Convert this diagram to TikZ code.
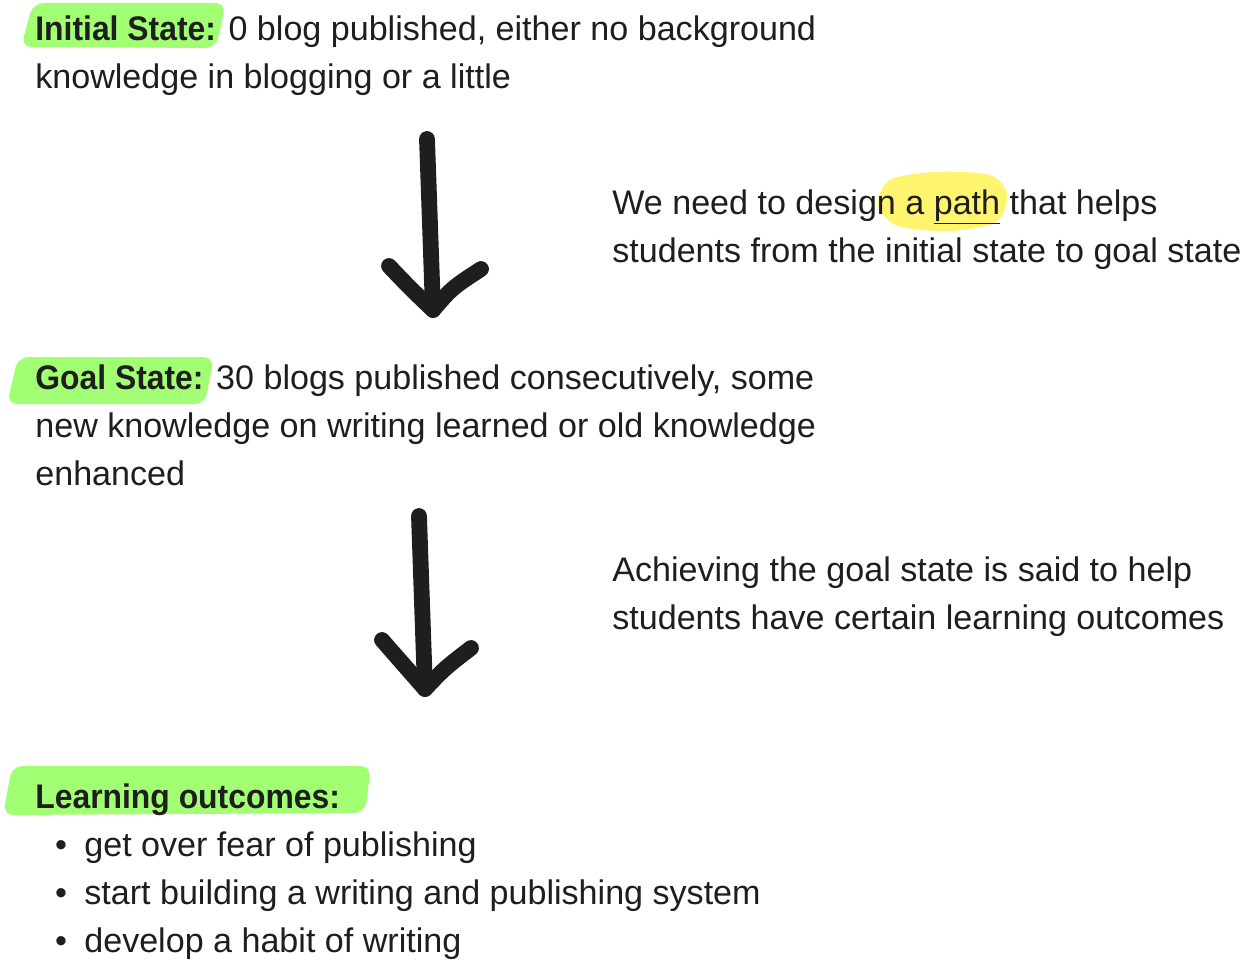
\documentclass[tikz,border=0pt]{standalone}
\usepackage{fontspec}
\setmainfont{Liberation Sans}[BoldFeatures={FakeStretch=0.935}]
\usetikzlibrary{positioning}
\definecolor{ink}{HTML}{1E1E1E}
\definecolor{hlgreen}{HTML}{A2FF73}
\definecolor{hlyellow}{HTML}{FFF46E}
\tikzset{
  txt/.style={anchor=base west,inner sep=0pt,align=left,text=ink,font=\fontsize{19.4}{27.2}\selectfont},
  dot/.style={anchor=base,inner sep=0pt,text=ink,font=\fontsize{19.4}{27.2}\selectfont},
  pen/.style={draw=ink,line width=9pt,line cap=round,line join=round},
}
\begin{document}
\begin{tikzpicture}[x=0.02cm,y=-0.02cm]
\useasboundingbox (0,0) rectangle (1242,960);
% highlights
\fill[hlgreen,rounded corners=6pt] (21,47) -- (33,3) -- (226,3) -- (216,48) -- cycle;
\fill[hlgreen,rounded corners=6pt] (7,404) -- (18,357) -- (214,357) -- (205,404) -- cycle;
\fill[hlgreen,rounded corners=6pt] (3,815) -- (12,766) -- (371,766) -- (365,813) -- cycle;
\fill[hlyellow] plot[smooth cycle] coordinates {(878,205) (890,180) (935,172) (990,175) (1007,195) (996,222) (950,231) (898,226)};
% texts (placed at the baseline of their last line)
\node[txt] (init) at (35,88) {\textbf{Initial State:} 0 blog published, either no background\\knowledge in blogging or a little};
\node[txt] (design) at (612,262) {We need to design a \underline{path} that helps\\students from the initial state to goal state};
\node[txt] (goal) at (35,485) {\textbf{Goal State:} 30 blogs published consecutively, some\\new knowledge on writing learned or old knowledge\\enhanced};
\node[txt] (achieve) at (612,629) {Achieving the goal state is said to help\\students have certain learning outcomes};
\node[txt] (learn) at (35,808) {\textbf{Learning outcomes:}};
\node[txt] (o1) at (84,856) {get over fear of publishing};
\node[txt] (o2) at (84,904) {start building a writing and publishing system};
\node[txt] (o3) at (84,952) {develop a habit of writing};
\node[dot] (b1) at (61,856) {•};
\node[dot] (b2) at (61,904) {•};
\node[dot] (b3) at (61,952) {•};
% arrows
\coordinate (s1) at (427,139);
\coordinate (t1) at (433,310);
\coordinate (s2) at (419,516);
\coordinate (t2) at (425,689);
\draw[pen] (s1) -- (t1);
\draw[pen] (389,266) .. controls (410,288) .. (t1) .. controls (452,288) .. (481,269);
\draw[pen] (s2) -- (t2);
\draw[pen] (382,640) .. controls (403,664) .. (t2) .. controls (445,668) .. (471,648);
\end{tikzpicture}
\end{document}
